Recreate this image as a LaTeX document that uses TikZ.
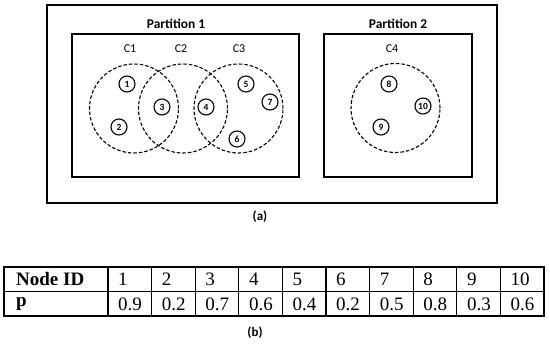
\documentclass[tikz,border=0pt]{standalone}
\usepackage{fontspec}
\setmainfont{Liberation Serif}
\newfontfamily\calib{Carlito}
\begin{document}
\begin{tikzpicture}[x=1pt,y=-1pt,
  box/.style={draw, line width=1.3pt},
  outerbox/.style={draw, line width=1.6pt},
  cluster/.style={draw, circle, line width=1.1pt, minimum size=89pt, inner sep=0pt, dash pattern=on 3.5pt off 2pt},
  vert/.style={draw, circle, line width=1.1pt, minimum size=16pt, inner sep=0pt, font=\calib\bfseries\fontsize{9.5}{10}\selectfont},
  ptitle/.style={font=\calib\bfseries\fontsize{13.4}{15}\selectfont},
  clabel/.style={font=\calib\fontsize{12}{14}\selectfont},
  sublabel/.style={font=\calib\bfseries\fontsize{13}{15}\selectfont},
  cell/.style={anchor=west, inner sep=0pt, font=\fontsize{19}{21}\selectfont},
  hcell/.style={cell, font=\bfseries\fontsize{19}{21}\selectfont},
  tline/.style={line width=1.3pt}
]
\useasboundingbox (0,0) rectangle (550,344);
% outer box
\draw[outerbox] (47,5) rectangle (497,203);
% partitions
\draw[box] (72,34) rectangle (299,177);
\draw[box] (324,34) rectangle (472,177);
\node[ptitle] (p1) at (176,24) {Partition 1};
\node[ptitle] (p2) at (398,24) {Partition 2};
% cluster labels
\node[clabel] (lc1) at (130,49) {C1};
\node[clabel] (lc2) at (181,49) {C2};
\node[clabel] (lc3) at (239,49) {C3};
\node[clabel] (lc4) at (392,49) {C4};
% clusters
\node[cluster] (c1) at (134,108.5) {};
\node[cluster] (c2) at (183,108.5) {};
\node[cluster] (c3) at (238.5,108.5) {};
\node[cluster] (c4) at (395.5,108) {};
% vertices
\node[vert] (n1) at (127,84) {1};
\node[vert] (n2) at (119,127) {2};
\node[vert] (n3) at (162,107) {3};
\node[vert] (n4) at (206,107) {4};
\node[vert] (n5) at (246,84) {5};
\node[vert] (n6) at (237,139) {6};
\node[vert] (n7) at (270,102) {7};
\node[vert] (n8) at (389,84) {8};
\node[vert] (n9) at (381,127) {9};
\node[vert] (n10) at (423,106) {10};
\node[sublabel] (la) at (260,217) {(a)};
% table
\draw[tline] (4,267) rectangle (544,316);
\draw[tline] (4,291.5) -- (544,291.5);
\foreach \x in {108,151.6,195.2,238.8,282.4,326,369.6,413.2,456.8,500.4}
  \draw[tline] (\x,267) -- (\x,316);
\node[hcell] (h0) at (16,279.5) {Node ID};
\node[hcell] (r0) at (16,304) {p};
\foreach \v [count=\i from 0] in {1,2,3,4,5,6,7,8,9,10} {
  \node[cell] (h\v) at (108+43.6*\i+10,279.5) {\v};
}
\foreach \v [count=\i from 0] in {0.9,0.2,0.7,0.6,0.4,0.2,0.5,0.8,0.3,0.6} {
  \node[cell] (r\i) at (108+43.6*\i+10,304) {\v};
}
\node[sublabel] (lb) at (255,333) {(b)};
\end{tikzpicture}
\end{document}
